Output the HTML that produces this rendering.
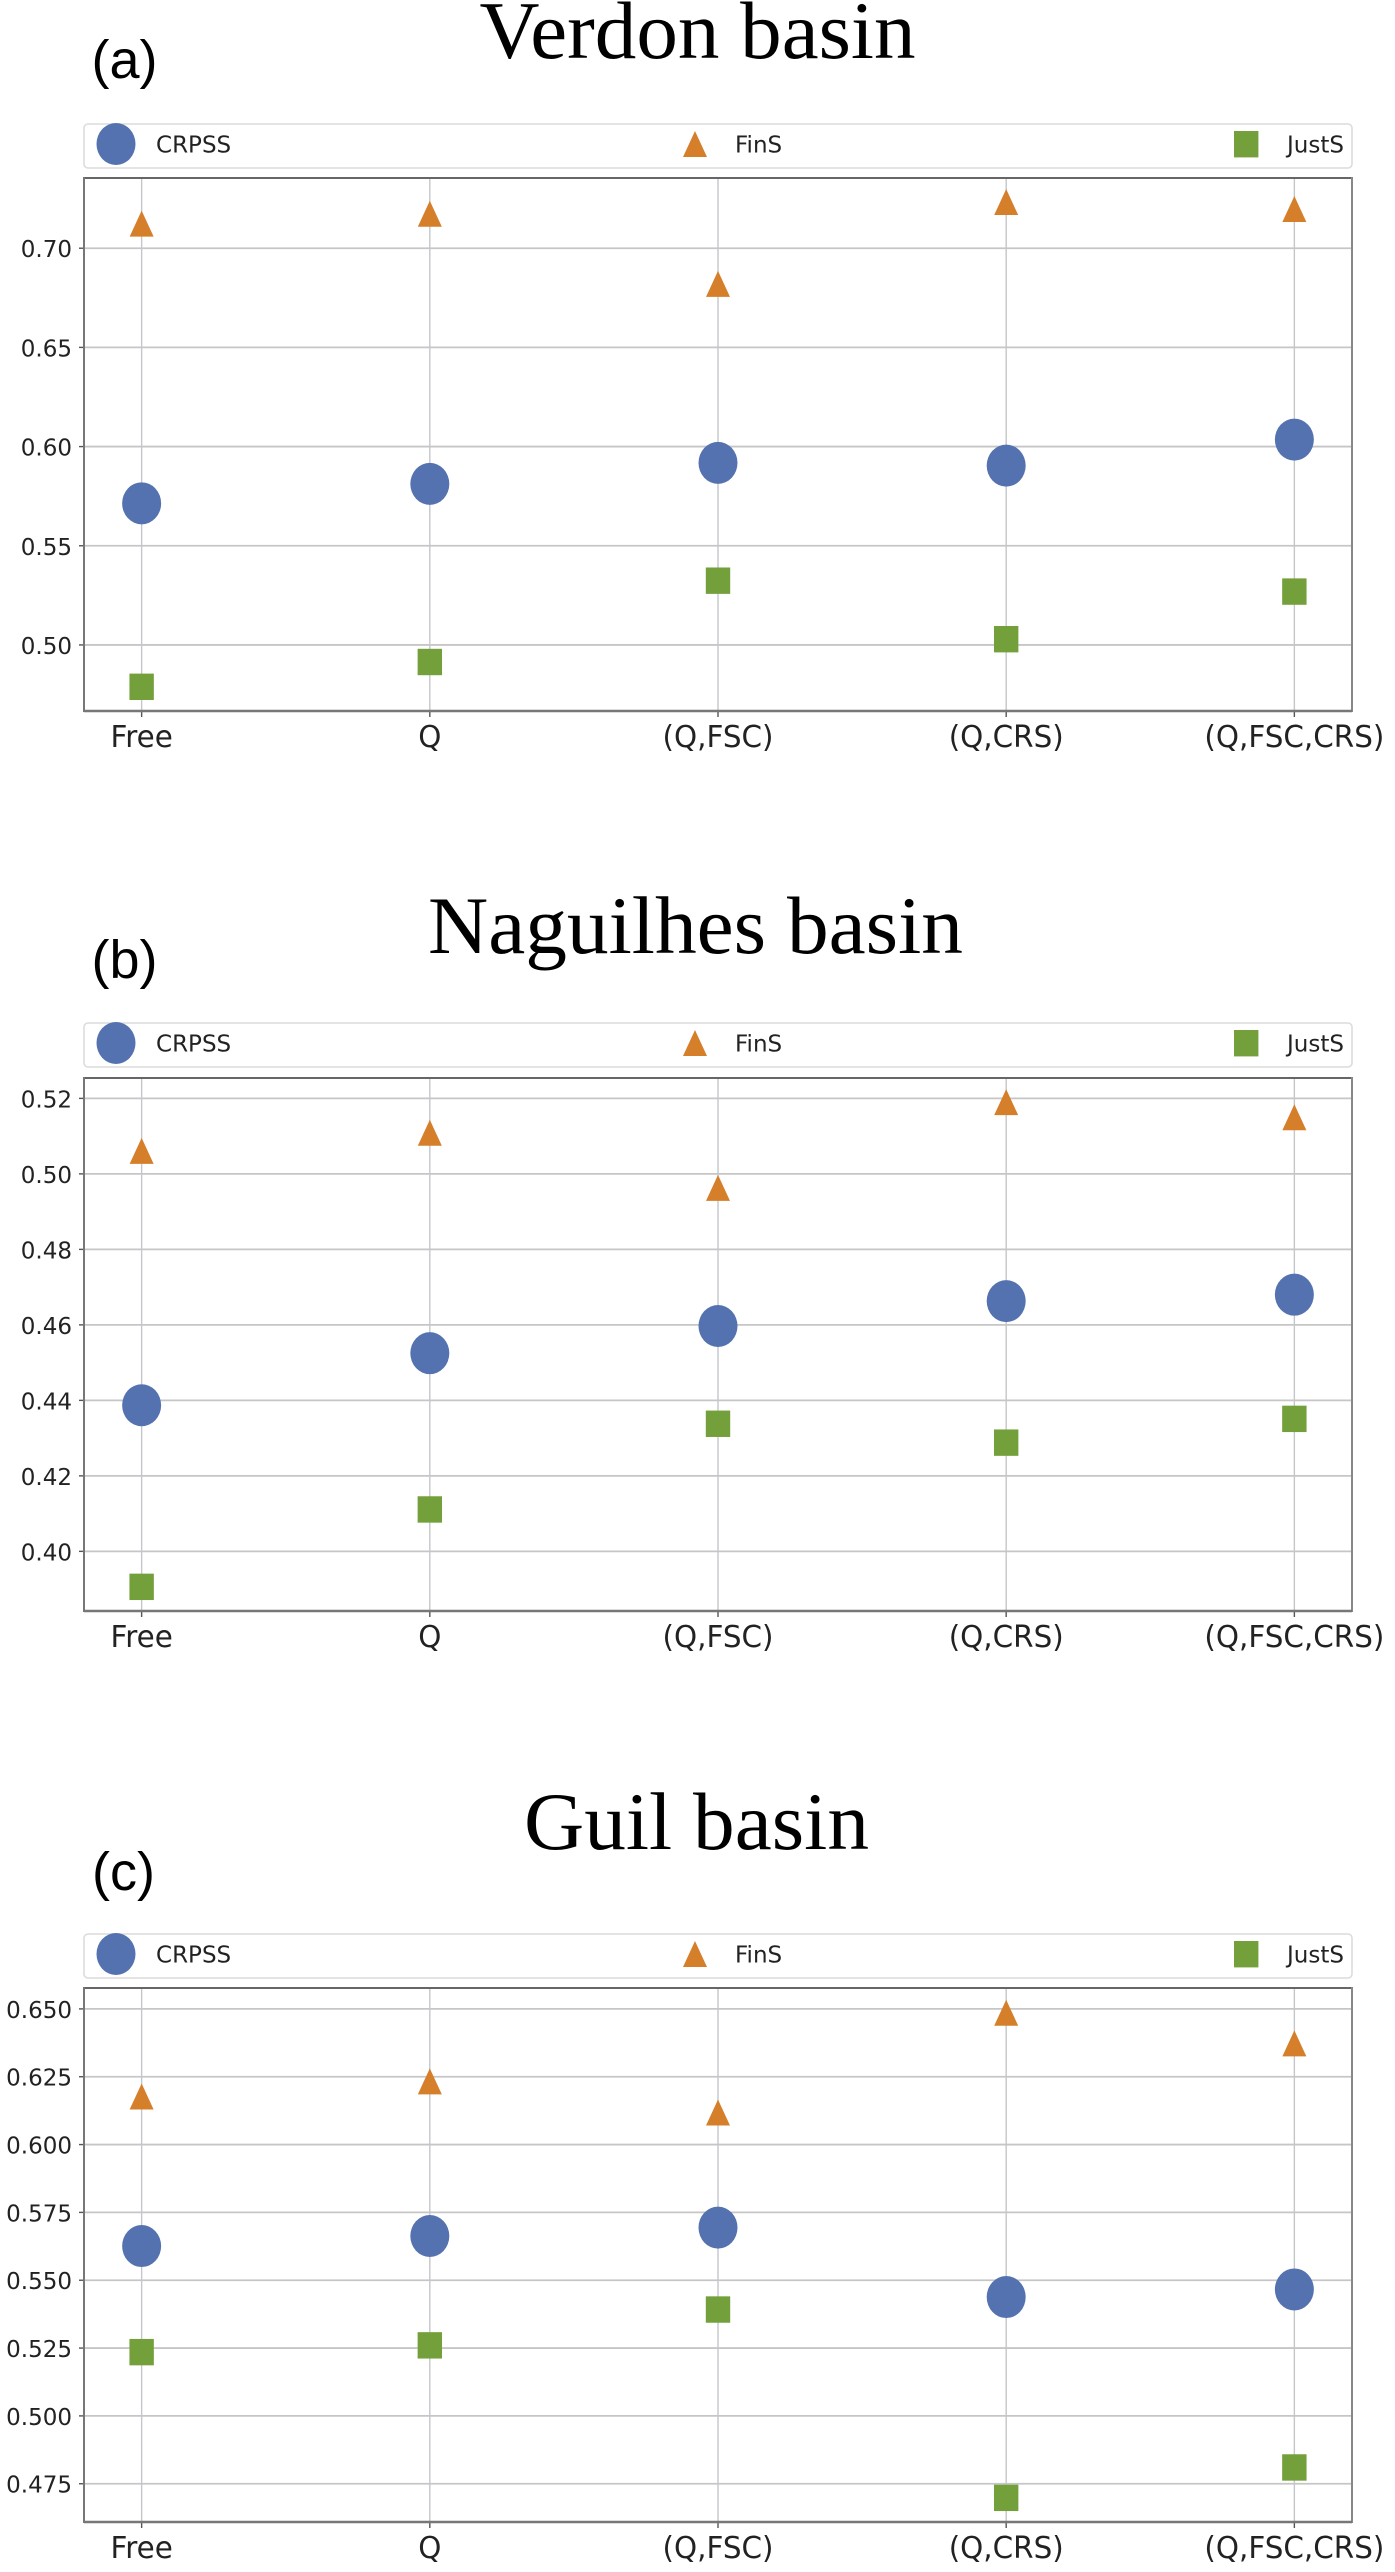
<!DOCTYPE html>
<html lang="en">
<head>
<meta charset="utf-8">
<title>Verdon, Naguilhes and Guil basin scores</title>
<style>
html,body{margin:0;padding:0;background:#fff;}
svg{display:block;}
.title{font-family:"Liberation Serif",serif;font-size:82px;fill:#000;}
.panel-tag{font-family:"Liberation Sans",sans-serif;font-size:54px;fill:#000;}
.legend-text,.y-tick-text{font-family:"DejaVu Sans",sans-serif;font-size:23.5px;fill:#222;}
.x-tick-text{font-family:"DejaVu Sans",sans-serif;font-size:30px;fill:#222;}
</style>
</head>
<body>
<svg id="figure" xmlns="http://www.w3.org/2000/svg" width="1395" height="2572" viewBox="0 0 1395 2572">
  <rect x="0" y="0" width="1395" height="2572" fill="#fff"/>

  <g id="panel-a">
    <text class="title" x="697.5" y="58" text-anchor="middle" textLength="436" lengthAdjust="spacingAndGlyphs">Verdon basin</text>
    <text class="panel-tag" x="91.5" y="78">(a)</text>
    <g transform="translate(0,0)">
      <rect x="84" y="124" width="1268" height="44" rx="4" fill="#fff" stroke="#dcdcdc" stroke-width="1.6"/>
      <ellipse cx="116" cy="144" rx="19.5" ry="21" fill="#5572b0"/>
      <text class="legend-text" transform="translate(156,152.7) scale(.98,1)">CRPSS</text>
      <polygon points="695,131 707,157 683,157" fill="#d57f2b"/>
      <text class="legend-text" transform="translate(735,152.7) scale(.98,1)">FinS</text>
      <rect x="1234" y="131" width="24.4" height="26.4" fill="#74a03c"/>
      <text class="legend-text" transform="translate(1287,152.7) scale(.98,1)">JustS</text>
    </g>
  </g>

  <g id="panel-b">
    <text class="title" x="695.5" y="953" text-anchor="middle" textLength="535" lengthAdjust="spacingAndGlyphs">Naguilhes basin</text>
    <text class="panel-tag" x="91.5" y="978">(b)</text>
    <g transform="translate(0,899)">
      <rect x="84" y="124" width="1268" height="44" rx="4" fill="#fff" stroke="#dcdcdc" stroke-width="1.6"/>
      <ellipse cx="116" cy="144" rx="19.5" ry="21" fill="#5572b0"/>
      <text class="legend-text" transform="translate(156,152.7) scale(.98,1)">CRPSS</text>
      <polygon points="695,131 707,157 683,157" fill="#d57f2b"/>
      <text class="legend-text" transform="translate(735,152.7) scale(.98,1)">FinS</text>
      <rect x="1234" y="131" width="24.4" height="26.4" fill="#74a03c"/>
      <text class="legend-text" transform="translate(1287,152.7) scale(.98,1)">JustS</text>
    </g>
  </g>

  <g id="panel-c">
    <text class="title" x="696.5" y="1849" text-anchor="middle" textLength="345" lengthAdjust="spacingAndGlyphs">Guil basin</text>
    <text class="panel-tag" x="92" y="1890">(c)</text>
    <g transform="translate(0,1810)">
      <rect x="84" y="124" width="1268" height="44" rx="4" fill="#fff" stroke="#dcdcdc" stroke-width="1.6"/>
      <ellipse cx="116" cy="144" rx="19.5" ry="21" fill="#5572b0"/>
      <text class="legend-text" transform="translate(156,152.7) scale(.98,1)">CRPSS</text>
      <polygon points="695,131 707,157 683,157" fill="#d57f2b"/>
      <text class="legend-text" transform="translate(735,152.7) scale(.98,1)">FinS</text>
      <rect x="1234" y="131" width="24.4" height="26.4" fill="#74a03c"/>
      <text class="legend-text" transform="translate(1287,152.7) scale(.98,1)">JustS</text>
    </g>
  </g>
</svg>

<script>
const categories = ["Free", "Q", "(Q,FSC)", "(Q,CRS)", "(Q,FSC,CRS)"];

const verdonCrpss = [0.5714, 0.5812, 0.5918, 0.5904, 0.6035];
const verdonFins = [0.7124, 0.7174, 0.6820, 0.7233, 0.7198];
const verdonJusts = [0.4789, 0.4914, 0.5324, 0.5029, 0.5269];
const verdonTicks = ["0.50", "0.55", "0.60", "0.65", "0.70"];
const verdonDomain = [0.4667, 0.7354];

const naguilhesCrpss = [0.4387, 0.4525, 0.4597, 0.4663, 0.4680];
const naguilhesFins = [0.5061, 0.5109, 0.4963, 0.5190, 0.5150];
const naguilhesJusts = [0.3906, 0.4111, 0.4338, 0.4288, 0.4351];
const naguilhesTicks = ["0.40", "0.42", "0.44", "0.46", "0.48", "0.50", "0.52"];
const naguilhesDomain = [0.3842, 0.5254];

const guilCrpss = [0.5626, 0.5663, 0.5694, 0.5438, 0.5466];
const guilFins = [0.6177, 0.6233, 0.6118, 0.6486, 0.6373];
const guilJusts = [0.5235, 0.5260, 0.5392, 0.4698, 0.4810];
const guilTicks = ["0.475", "0.500", "0.525", "0.550", "0.575", "0.600", "0.625", "0.650"];
const guilDomain = [0.4609, 0.6577];

const SVG_NS = "http://www.w3.org/2000/svg";

function make(parent, tag, attrs) {
  const node = document.createElementNS(SVG_NS, tag);
  for (const key in attrs) { node.setAttribute(key, attrs[key]); }
  parent.appendChild(node);
  return node;
}

function drawPanel(panelId, top, bottom, domain, ticks, crpss, fins, justs) {
  const panel = document.getElementById(panelId);
  const left = 84;
  const right = 1352;
  const xStep = (right - left) / (categories.length - 1 + 0.4);
  const xScale = function (i) { return left + (i + 0.2) * xStep; };
  const yScale = function (v) { return top + (domain[1] - v) / (domain[1] - domain[0]) * (bottom - top); };

  const axes = make(panel, "g", {});
  
  

  ticks.forEach(function (label) {
    const y = yScale(parseFloat(label));
    const grid = make(axes, "line", { x1: left, x2: right, y1: y, y2: y, stroke: "#c6c6c6", "stroke-width": 1.8 });
    
    
    const mark = make(axes, "line", { x1: left - 5, x2: left, y1: y, y2: y, stroke: "#555", "stroke-width": 1.4 });
    
    
    const text = make(axes, "text", { "class": "y-tick-text", "text-anchor": "end", transform: "translate(72," + (y + 9) + ") scale(.98,1)" });
    
    
    text.textContent = label;
  });

  categories.forEach(function (label, i) {
    const x = xScale(i);
    const grid = make(axes, "line", { x1: x, x2: x, y1: top, y2: bottom, stroke: "#c4c6ca", "stroke-width": 1.4 });
    
    
    const mark = make(axes, "line", { x1: x, x2: x, y1: bottom, y2: bottom + 6, stroke: "#555", "stroke-width": 1.4 });
    
    
    const text = make(axes, "text", { "class": "x-tick-text", "text-anchor": "middle", transform: "translate(" + x + "," + (bottom + 36) + ") scale(.98,1)" });
    
    
    text.textContent = label;
  });

  const frameTop = make(axes, "line", { x1: left, x2: right, y1: top, y2: top, stroke: "#666", "stroke-width": 2 });
  
  
  const frameRight = make(axes, "line", { x1: right, x2: right, y1: top - 1, y2: bottom + 1, stroke: "#888", "stroke-width": 2 });
  
  
  const frameLeft = make(axes, "line", { x1: left, x2: left, y1: top - 1, y2: bottom + 1, stroke: "#777", "stroke-width": 2 });
  
  
  const frameBottom = make(axes, "line", { x1: left, x2: right, y1: bottom, y2: bottom, stroke: "#777", "stroke-width": 2.6 });
  
  

  crpss.forEach(function (v, i) {
    const dot = make(axes, "ellipse", { cx: xScale(i), cy: yScale(v), rx: 19.5, ry: 21, fill: "#5572b0" });
    
    
  });

  fins.forEach(function (v, i) {
    const x = xScale(i);
    const y = yScale(v);
    const tri = make(axes, "polygon", { points: x + "," + (y - 13) + " " + (x + 12) + "," + (y + 13) + " " + (x - 12) + "," + (y + 13), fill: "#d57f2b" });
    
    
  });

  justs.forEach(function (v, i) {
    const box = make(axes, "rect", { x: xScale(i) - 12.2, y: yScale(v) - 13.2, width: 24.4, height: 26.4, fill: "#74a03c" });
    
    
  });
}

drawPanel("panel-a", 178, 711, verdonDomain, verdonTicks, verdonCrpss, verdonFins, verdonJusts);
drawPanel("panel-b", 1078, 1611, naguilhesDomain, naguilhesTicks, naguilhesCrpss, naguilhesFins, naguilhesJusts);
drawPanel("panel-c", 1988, 2522, guilDomain, guilTicks, guilCrpss, guilFins, guilJusts);
</script>
</body>
</html>
